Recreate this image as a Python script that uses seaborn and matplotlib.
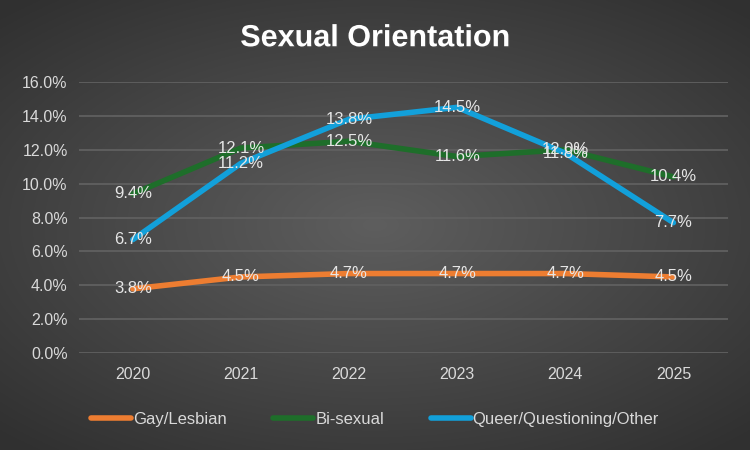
import numpy as np
import pandas as pd
import seaborn as sns
import matplotlib.pyplot as plt
import matplotlib.patheffects as pe
from matplotlib.ticker import FuncFormatter

# values (percent)
years = ["2020", "2021", "2022", "2023", "2024", "2025"]
gay_lesbian = [3.8, 4.5, 4.7, 4.7, 4.7, 4.5]
bi_sexual = [9.4, 12.1, 12.5, 11.6, 12.0, 10.4]
queer_other = [6.7, 11.2, 13.8, 14.5, 11.8, 7.7]
series_names = ["Gay/Lesbian", "Bi-sexual", "Queer/Questioning/Other"]
colors = ["#ED7D31", "#1E6E2A", "#12A0DA"]

df = pd.DataFrame({"Year": years * 3,
                   "Value": gay_lesbian + bi_sexual + queer_other,
                   "Series": [s for s in series_names for _ in years]})

sns.set_theme(style="dark")
plt.rcParams["font.family"] = ["Liberation Sans", "DejaVu Sans"]

fig = plt.figure(figsize=(7.5, 4.5), dpi=100)

# radial gradient background
bg = fig.add_axes([0, 0, 1, 1], zorder=-10)
yy, xx = np.mgrid[-1:1:300j, -1:1:500j]
r = np.sqrt((xx * 1.0) ** 2 + (yy * 1.1) ** 2)
grad = np.clip(r / 1.45, 0, 1)
c0 = np.array([0x5e, 0x5e, 0x5e]) / 255
c1 = np.array([0x30, 0x30, 0x30]) / 255
img = c0[None, None, :] * (1 - grad[..., None]) + c1[None, None, :] * grad[..., None]
bg.imshow(img, aspect="auto", extent=[0, 1, 0, 1])
bg.axis("off")

ax = fig.add_axes([0.105, 0.215, 0.865, 0.603])
ax.set_facecolor("none")
sns.lineplot(data=df, x="Year", y="Value", hue="Series", palette=colors,
             linewidth=4, ax=ax, sort=False, legend=True)
for ln in ax.lines:
    ln.set_solid_capstyle("round")
    ln.set_solid_joinstyle("round")

ax.set_ylim(0, 16)
ax.set_yticks(np.arange(0, 16.1, 2))
ax.yaxis.set_major_formatter(FuncFormatter(lambda v, p: f"{v:.1f}%"))
ax.set_xlim(-0.5, len(years) - 0.5)
ax.grid(axis="y", color="#606060", linewidth=1.3)
ax.grid(axis="x", visible=False)
ax.set_axisbelow(True)
for s in ax.spines.values():
    s.set_visible(False)
ax.set_xlabel("")
ax.set_ylabel("")
ax.tick_params(axis="both", colors="#d9d9d9", labelsize=11.5, length=0)
ax.tick_params(axis="x", pad=10)
ax.tick_params(axis="y", pad=8)

# data labels
for vals in [gay_lesbian, bi_sexual, queer_other]:
    for i, v in enumerate(vals):
        ax.text(i, v, f"{v:.1f}%", ha="center", va="center",
                color="#e6e6e6", fontsize=12, zorder=5)

handles, labels = ax.get_legend_handles_labels()
ax.get_legend().remove()
leg = fig.legend(handles, labels, loc="center", bbox_to_anchor=(0.5, 0.068),
                 ncol=3, frameon=False, fontsize=12, labelcolor="#d9d9d9",
                 handlelength=2.4, handletextpad=0.1, columnspacing=2.8)
for h in leg.get_lines():
    h.set_linewidth(4)
    h.set_solid_capstyle("round")

fig.text(0.5, 0.915, "Sexual Orientation", ha="center", va="center",
         color="white", fontsize=22, fontweight="bold",
         path_effects=[pe.withSimplePatchShadow(offset=(1, -1), alpha=0.5)])

fig.savefig("out.png", dpi=100)
